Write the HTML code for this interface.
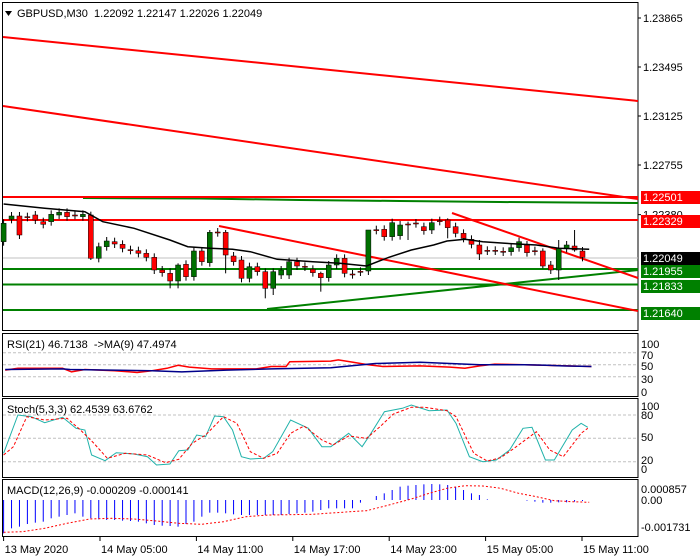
<!DOCTYPE html>
<html><head><meta charset="utf-8"><style>
body{margin:0;background:#fff;width:700px;height:560px;overflow:hidden}
svg{display:block;font-family:"Liberation Sans",sans-serif;font-size:11px}
</style></head><body>
<svg id="s" width="700" height="560" xmlns="http://www.w3.org/2000/svg"></svg>
<script>
var S=document.getElementById('s'),h='';
function L(x1,y1,x2,y2,c,w,d){h+='<line x1="'+x1+'" y1="'+y1+'" x2="'+x2+'" y2="'+y2+'" stroke="'+c+'" stroke-width="'+(w||1)+'"'+(d?' stroke-dasharray="'+d+'"':'')+'/>';}
function R(x,y,w,hh,c){h+='<rect x="'+x+'" y="'+y+'" width="'+w+'" height="'+hh+'" fill="'+c+'"/>';}
function T(x,y,t,c,a){h+='<text x="'+x+'" y="'+y+'" fill="'+(c||'#000')+'"'+(a?' text-anchor="'+a+'"':'')+'>'+t+'</text>';}
function P(pts,c,w,d){h+='<polyline fill="none" points="'+pts.map(function(p){return p[0].toFixed(1)+','+p[1].toFixed(1)}).join(' ')+'" stroke="'+c+'" stroke-width="'+(w||1)+'"'+(d?' stroke-dasharray="'+d+'"':'')+'/>';}
var AX=638;
// frames
h+='<rect x="2.5" y="2.5" width="'+(AX-2.5)+'" height="328" fill="none" stroke="#000"/>';
h+='<rect x="2.5" y="333.5" width="'+(AX-2.5)+'" height="63" fill="none" stroke="#000"/>';
h+='<rect x="2.5" y="398.5" width="'+(AX-2.5)+'" height="79" fill="none" stroke="#000"/>';
h+='<rect x="2.5" y="479.5" width="'+(AX-2.5)+'" height="57" fill="none" stroke="#000"/>';
// price axis
function py(p){return 18+(1.23865-p)*13243;}
[[1.23865,'1.23865'],[1.23495,'1.23495'],[1.23125,'1.23125'],[1.22755,'1.22755'],[1.2238,'1.22380']].forEach(function(a){var y=py(a[0]);L(AX,y,AX+3,y,'#000');T(643,y+4,a[1]);});
// current price gray
L(3,258,AX,258,'#c0c0c0');
// channel lines
L(3,37,AX,101,'#ff0000',2);
L(3,106,AX,199,'#ff0000',2);
// green top
P([[83,198],[200,198.5],[300,200],[400,201],[500,202],[AX,203]],'#008000',2);
L(3,197,AX,197,'#ff0000',2);
L(3,220,AX,220,'#ff0000',2);
L(3,269,AX,269,'#008000',2);
L(3,284.5,AX,284.5,'#008000',2);
L(3,310,AX,310,'#008000',2);
L(267,309,AX,270,'#008000',2);
L(219,226,AX,311,'#ff0000',2);
L(452,213,AX,278,'#ff0000',2);
// candles [o,c] zoom y
var C=[[185,130],[118,108],[108,165],[110,112],[105,120],[125,133],[125,103],[105,97],[97,110],[105,106],[110,103],[105,235],[235,200],[200,183],[185,192],[193,205],[209,211],[212,220],[220,232],[232,270],[270,278],[280,303],[303,255],[253,290],[290,213],[213,245],[248,157],[156,158],[157,225],[228,245],[240,295],[295,260],[260,275],[275,325],[325,275],[285,270],[285,245],[245,258],[259,261],[268,278],[280,293],[293,255],[255,235],[235,280],[282,284],[274,276],[273,150],[149,151],[148,170],[170,128],[167,135],[132,134],[129,131],[140,152],[150,128],[122,124],[120,143],[140,160],[160,175],[178,193],[195,222],[211,213],[211,213],[214,216],[215,203],[203,185],[195,218],[212,214],[213,258],[255,270],[270,205],[205,195],[198,210],[213,232]];
var longw={11:[95,240],21:[265,325],22:[250,325],26:[150,260],28:[150,280],33:[265,355],34:[265,345],40:[275,335],46:[150,285],51:[125,180],56:[115,175],60:[180,240],68:[205,265],70:[180,300],72:[150,215]};
var MA=[[8,72],[100,85],[190,95],[230,125],[300,145],[380,180],[420,200],[470,205],[520,208],[560,215],[620,238],[700,245],[760,250],[820,258],[870,232],[920,210],[970,195],[1000,183],[1040,178],[1080,185],[1130,190],[1200,195],[1250,205],[1318,208]];
C.forEach(function(c,i){var x=3.6+i*7.93,o=180+c[0]/3,cl=180+c[1]/3,t=Math.min(o,cl),b=Math.max(o,cl);var w=longw[i];var hi=w?180+w[0]/3:t-4,lo=w?180+w[1]/3:b+4;
L(x,hi,x,lo,'#000',1);var up=cl<o;var bh=Math.max(b-t,1);
h+='<rect x="'+(x-2.5)+'" y="'+t+'" width="5" height="'+bh+'" fill="'+(up?'#007000':'#ff0000')+'" stroke="#000" stroke-width="0.5"/>';});
P(MA.map(function(p){return [p[0]/2.237,180+p[1]/3]}),'#000',1.5);
// labels boxes
function box(y,t,bg){R(641,y-6,59,13,bg);T(643,y+4,t,'#fff');}
box(197,'1.22501','#ff0000');box(221,'1.22329','#ff0000');box(258,'1.22049','#000');box(271,'1.21955','#008000');box(286,'1.21833','#008000');box(313,'1.21640','#008000');
// header
h+='<polygon points="5,11 12,11 8.5,16" fill="#000"/>';
T(17,17,'GBPUSD,M30&#160;&#160;1.22092 1.22147 1.22026 1.22049');
// RSI
[[352.7,70],[364.7,50],[376.7,30]].forEach(function(a){L(3,a[0],AX,a[0],'#c0c0c0',1,'3,2');});
[[345,'100'],[356,'70'],[367,'50'],[380,'30'],[393,'0']].forEach(function(a){T(641,a[0]+3,a[1]);});
T(7,348,'RSI(21) 46.7138&#160;&#160;-&gt;MA(9) 47.4974');
function ry(v){return 394.7-0.6*v;}
var rb=[[3,42],[80,43],[90,42],[200,40],[240,38],[300,41],[360,43],[440,45],[500,52],[560,54],[600,52],[640,50],[700,50],[730,49],[750,48],[790,47]];
var rr=[[3,41],[20,44],[80,44],[92,38],[110,42],[150,40],[180,37],[200,40],[220,44],[235,49],[250,46],[280,43],[340,43],[360,47],[380,47],[385,55],[440,56],[450,58],[470,54],[490,50],[510,47],[560,48],[600,46],[620,44],[640,48],[660,51],[700,50],[790,47]];
P(rr.map(function(p){return [p[0]*0.745+3,ry(p[1])]}),'#ff0000',1.5);
P(rb.map(function(p){return [p[0]*0.745+3,ry(p[1])]}),'#00008b',1.5);
// Stoch
[[415,80],[438.3,50],[461.7,20]].forEach(function(a){L(3,a[0],AX,a[0],'#c0c0c0',1,'3,2');});
[[407,'100'],[416,'80'],[438,'50'],[461,'20'],[470,'0']].forEach(function(a){T(641,a[0]+3,a[1]);});
T(7,413,'Stoch(5,3,3) 62.4539 63.6762');
var sm=[[8,400],[40,285],[70,290],[100,308],[140,292],[170,325],[190,330],[205,405],[235,422],[260,398],[300,402],[330,410],[350,435],[380,432],[400,392],[420,390],[440,345],[460,350],[480,288],[500,290],[520,330],[540,410],[560,417],[590,415],[610,395],[650,300],[690,325],[720,380],[740,380],[780,340],[810,380],[830,340],[860,275],[900,265],[920,255],[960,272],[1000,270],[1020,310],[1050,410],[1080,425],[1110,420],[1140,390],[1170,325],[1190,322],[1220,420],[1240,420],[1280,330],[1300,310],[1315,322]];
var ss=[[8,405],[30,380],[60,290],[100,300],[150,295],[180,330],[210,370],[240,415],[280,400],[330,405],[370,428],[400,418],[430,370],[460,345],[500,290],[530,310],[560,395],[590,415],[620,400],[650,340],[680,318],[720,360],[745,375],[780,348],[820,355],[850,320],[880,282],[920,262],[950,262],[1000,272],[1020,290],[1060,400],[1090,423],[1120,413],[1150,385],[1200,335],[1230,390],[1260,410],[1300,340],[1315,325]];
P(sm.map(function(p){return [p[0]/2.237,320+p[1]/3]}),'#20b2aa',1);
P(ss.map(function(p){return [p[0]/2.237,320+p[1]/3]}),'#ff0000',1,'3,2');
// MACD
T(641,493,'0.000857');T(641,504,'0.00');T(641,531,'-0.001731');
T(7,494,'MACD(12,26,9) -0.000209 -0.000141');
var mh=[640,625,620,612,608,605,595,590,585,580,590,595,598,600,600,602,603,605,610,615,617,618,620,612,605,590,578,578,580,583,585,585,585,585,585,585,582,580,578,575,570,565,565,565,565,548,540,528,520,510,500,497,495,493,492,493,495,500,510,520,525,538,540,540,540,540,542,545,548,548,547,547,545,543];
mh.forEach(function(v,i){var x=3.6+i*7.93;var y=320+v/3;L(x,500,x,y,'#0000ff',1);});
var msig=[[8,637],[50,635],[100,625],[150,610],[200,597],[250,595],[300,597],[350,603],[400,610],[450,613],[500,605],[550,590],[600,585],[700,583],[750,578],[820,572],[870,555],[920,537],[960,520],[1000,505],[1040,497],[1080,498],[1120,505],[1160,520],[1200,530],[1240,542],[1280,545],[1318,547]];
P(msig.map(function(p){return [p[0]/2.237,320+p[1]/3]}),'#ff0000',1,'2,2');
// time axis
var tl=['13 May 2020','14 May 05:00','14 May 11:00','14 May 17:00','14 May 23:00','15 May 05:00','15 May 11:00'];
tl.forEach(function(t,i){var x=3.6+i*96.4;L(x,537,x,541,'#000');T(x+1,553,t);});
S.innerHTML=h;
</script>
</body></html>
